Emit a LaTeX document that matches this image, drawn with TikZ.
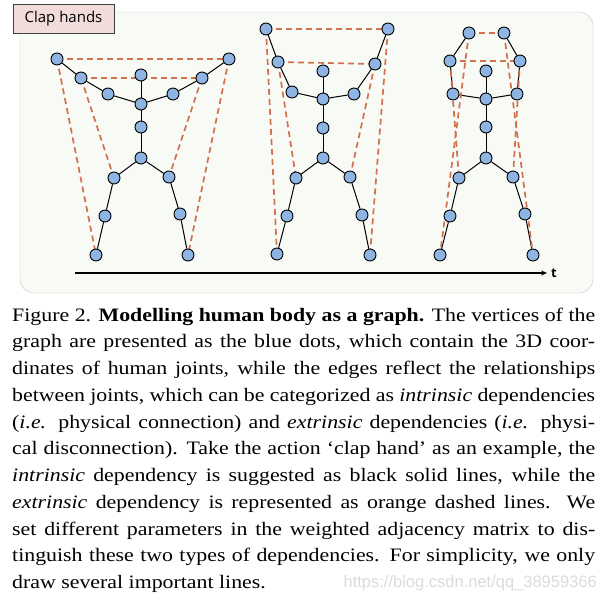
\documentclass[tikz,border=0pt]{standalone}
\usepackage{fontspec}
\setmainfont[FakeStretch=1.15]{Liberation Serif}
\newfontfamily\labelfont{Open Sans}
\newfontfamily\markfont{Liberation Sans}
\usepackage{xcolor}
\usepackage{tikz}
\usetikzlibrary{arrows.meta}
\definecolor{jointblue}{RGB}{141,180,226}
\definecolor{extorange}{RGB}{211,112,77}
\definecolor{panelbg}{RGB}{248,250,245}
\definecolor{tagpink}{RGB}{242,220,219}
\pgfdeclarelayer{panel}
\pgfdeclarelayer{edges}
\pgfsetlayers{panel,edges,main}

\begin{document}
\begin{tikzpicture}[
  x=1pt, y=-1pt,
  joint/.style={circle, draw=black, line width=0.9pt, fill=jointblue, minimum size=12pt, inner sep=0pt},
  bone/.style={draw=black, line width=1pt},
  extr/.style={draw=extorange, line width=1.7pt, dash pattern=on 6pt off 4pt},
  tag/.style={rectangle, draw=black!75, line width=0.9pt, fill=tagpink, minimum width=101pt, minimum height=29pt, font=\labelfont\fontsize{15}{15}\selectfont},
  axis/.style={-{Stealth[length=6pt,width=5pt]}, line width=1.2pt}
]
\useasboundingbox (0,0) rectangle (608,600);

% Panel
\begin{pgfonlayer}{panel}
\draw[draw=black!22, fill=panelbg, rounded corners=14pt] (20,12) rectangle (593,293);
\end{pgfonlayer}
\node[tag] (clap) at (63.5,18.5) {Clap hands};

% Skeleton 1
\node[joint] (a-lh) at (57,59) {};
\node[joint] (a-le) at (81,78) {};
\node[joint] (a-ls) at (108,94) {};
\node[joint] (a-hd) at (141,75) {};
\node[joint] (a-nk) at (141,104) {};
\node[joint] (a-sp) at (141,127) {};
\node[joint] (a-hc) at (141,158) {};
\node[joint] (a-lp) at (114,178) {};
\node[joint] (a-lk) at (105,216) {};
\node[joint] (a-lf) at (96,255) {};
\node[joint] (a-rs) at (173,94) {};
\node[joint] (a-re) at (202,78) {};
\node[joint] (a-rh) at (229,59) {};
\node[joint] (a-rp) at (169,177) {};
\node[joint] (a-rk) at (180,214) {};
\node[joint] (a-rf) at (188,255) {};

% Skeleton 2
\node[joint] (b-lh) at (266,29) {};
\node[joint] (b-le) at (278,62) {};
\node[joint] (b-ls) at (292,92) {};
\node[joint] (b-hd) at (323,71) {};
\node[joint] (b-nk) at (323,99) {};
\node[joint] (b-sp) at (323,128) {};
\node[joint] (b-hc) at (323,158) {};
\node[joint] (b-lp) at (296,178) {};
\node[joint] (b-lk) at (287,216) {};
\node[joint] (b-lf) at (277,254) {};
\node[joint] (b-rs) at (354,94) {};
\node[joint] (b-re) at (375,64) {};
\node[joint] (b-rh) at (388,29) {};
\node[joint] (b-rp) at (350,177) {};
\node[joint] (b-rk) at (362,215) {};
\node[joint] (b-rf) at (370,255) {};

% Skeleton 3
\node[joint] (c-lh) at (469,33) {};
\node[joint] (c-le) at (450,61) {};
\node[joint] (c-ls) at (453,94) {};
\node[joint] (c-hd) at (486,71) {};
\node[joint] (c-nk) at (486,99) {};
\node[joint] (c-sp) at (486,127) {};
\node[joint] (c-hc) at (486,158) {};
\node[joint] (c-lp) at (459,178) {};
\node[joint] (c-lk) at (450,216) {};
\node[joint] (c-lf) at (440,255) {};
\node[joint] (c-rs) at (517,94) {};
\node[joint] (c-re) at (520,61) {};
\node[joint] (c-rh) at (504,33) {};
\node[joint] (c-rp) at (513,177) {};
\node[joint] (c-rk) at (525,214) {};
\node[joint] (c-rf) at (533,255) {};

% Intrinsic and extrinsic edges
\begin{pgfonlayer}{edges}
\foreach \s in {a,b,c}{
  \draw[bone] (\s-lh) -- (\s-le) -- (\s-ls) -- (\s-nk) -- (\s-rs) -- (\s-re) -- (\s-rh);
  \draw[bone] (\s-hd) -- (\s-nk) -- (\s-sp) -- (\s-hc);
  \draw[bone] (\s-hc) -- (\s-lp) -- (\s-lk) -- (\s-lf);
  \draw[bone] (\s-hc) -- (\s-rp) -- (\s-rk) -- (\s-rf);
  \draw[extr] (\s-lh.center) -- (\s-rh.center);
  \draw[extr] (\s-le.center) -- (\s-re.center);
  \draw[extr] (\s-lh.center) -- (\s-lf.center);
  \draw[extr] (\s-le.center) -- (\s-lp.center);
  \draw[extr] (\s-rh.center) -- (\s-rf.center);
  \draw[extr] (\s-re.center) -- (\s-rp.center);
}
\end{pgfonlayer}

% Time axis
\coordinate (t0) at (75,273);
\node[font=\labelfont\bfseries\fontsize{13}{13}\selectfont, anchor=west, inner sep=4pt] (tlab) at (547,273) {t};
\draw[axis] (t0) -- (tlab);

% Caption
\node[anchor=north west, inner sep=0pt, text width=583pt, align=justify,
  font=\fontsize{19}{26.75}\selectfont] (caption) at (12,302.3) {%
\pretolerance=-1\tolerance=10000\hyphenpenalty=10000%
\strut Figure 2. \textbf{Modelling human body as a graph.} The vertices of the\linebreak
graph are presented as the blue dots, which contain the 3D coor-\linebreak
dinates of human joints, while the edges reflect the relationships\linebreak
between joints, which can be categorized as \textit{intrinsic} dependencies\linebreak
(\textit{i.e.} physical connection) and \textit{extrinsic} dependencies (\textit{i.e.} physi-\linebreak
cal disconnection). Take the action ‘clap hand’ as an example, the\linebreak
\textit{intrinsic} dependency is suggested as black solid lines, while the\linebreak
\textit{extrinsic} dependency is represented as orange dashed lines. We\linebreak
set different parameters in the weighted adjacency matrix to dis-\linebreak
tinguish these two types of dependencies. For simplicity, we only\linebreak
draw several important lines.};
\node[font=\markfont\fontsize{16.5}{16.5}\selectfont, text=black!14, anchor=base east, inner sep=0pt] (wmark) at (597,587) {https://blog.csdn.net/qq\_38959366};
\end{tikzpicture}
\end{document}
